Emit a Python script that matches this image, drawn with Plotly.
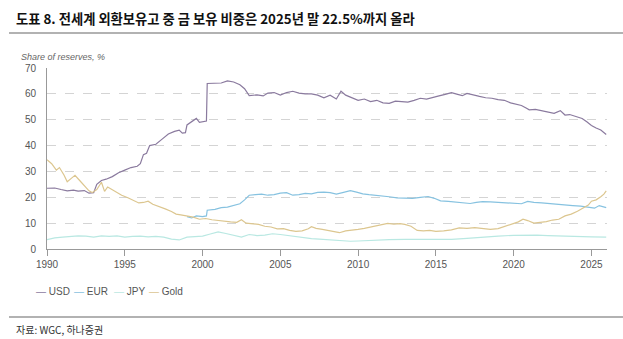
import plotly.graph_objects as go

usd_t = [1990.0,1990.5,1990.9,1991.3,1991.7,1992.0,1992.4,1992.7,1993.0,1993.2,1993.5,1993.8,1994.2,1994.6,1995.0,1995.4,1995.8,1996.0,1996.2,1996.4,1996.6,1997.0,1997.4,1997.8,1998.2,1998.5,1998.7,1998.9,1999.0,1999.4,1999.6,1999.8,2000.1,2000.25,2000.3,2000.8,2001.2,2001.6,2002.0,2002.4,2002.7,2003.0,2003.5,2003.9,2004.2,2004.6,2005.0,2005.4,2005.8,2006.2,2006.6,2007.0,2007.4,2007.8,2008.2,2008.6,2008.9,2009.2,2009.6,2010.0,2010.4,2010.8,2011.2,2011.6,2012.0,2012.4,2012.8,2013.2,2013.6,2014.0,2014.4,2014.8,2015.2,2015.6,2016.0,2016.4,2016.7,2017.0,2017.4,2017.8,2018.2,2018.6,2019.0,2019.4,2019.8,2020.2,2020.5,2020.8,2021.0,2021.4,2021.8,2022.2,2022.6,2023.0,2023.3,2023.6,2024.0,2024.4,2024.7,2025.0,2025.3,2025.6,2025.95]
usd_v = [23.5,23.6,23.0,22.5,22.8,22.4,22.6,21.6,21.8,25.0,26.5,27.0,28.0,29.5,30.5,31.5,32.0,33.0,36.5,37.0,40.0,40.5,42.5,44.5,45.5,46.0,44.8,45.0,48.0,49.5,50.5,49.0,49.5,49.5,64.0,64.0,64.2,65.0,64.6,63.5,62.0,59.3,59.6,59.2,60.3,60.5,59.5,60.5,61.0,60.3,60.0,60.0,59.5,58.5,59.5,58.0,61.0,59.5,58.5,57.5,58.0,57.0,57.5,56.5,56.3,57.2,57.0,56.8,57.5,58.3,58.0,58.5,59.2,59.8,60.5,59.8,59.3,60.2,59.5,59.0,58.5,58.3,57.8,57.5,56.5,56.0,55.5,54.5,53.8,54.0,53.5,53.0,52.5,53.5,51.8,52.0,51.2,50.5,49.2,47.8,46.8,46.0,44.3]

eur_t = [1999.0,1999.3,1999.6,2000.0,2000.25,2000.3,2000.8,2001.2,2001.6,2002.0,2002.4,2002.7,2003.0,2003.4,2003.8,2004.2,2004.6,2005.0,2005.4,2005.8,2006.2,2006.6,2007.0,2007.4,2007.8,2008.2,2008.6,2009.0,2009.5,2009.9,2010.3,2010.7,2011.1,2011.5,2012.0,2012.5,2013.0,2013.5,2014.0,2014.5,2014.9,2015.3,2015.8,2016.3,2016.8,2017.2,2017.6,2018.0,2018.5,2019.0,2019.5,2020.0,2020.5,2020.9,2021.3,2021.8,2022.3,2022.8,2023.3,2023.8,2024.3,2024.8,2025.2,2025.5,2025.95]
eur_v = [12.5,12.0,12.8,12.5,12.8,15.0,15.3,16.0,16.2,17.0,17.5,19.0,20.8,21.0,21.2,20.8,21.0,21.6,21.8,20.8,21.0,21.5,21.3,21.9,22.0,21.8,21.2,21.8,22.6,22.0,21.3,21.0,20.8,20.5,20.2,19.8,19.7,19.6,20.0,20.3,19.6,18.6,18.4,18.1,17.8,17.6,18.0,18.3,18.2,18.0,17.8,17.7,17.5,18.4,18.0,17.8,17.5,17.2,17.0,16.8,16.6,16.3,15.8,16.8,16.0]

jpy_t = [1990.0,1990.5,1991.0,1991.5,1992.0,1992.5,1993.0,1993.5,1994.0,1994.5,1995.0,1995.5,1996.0,1996.5,1997.0,1997.5,1998.0,1998.5,1999.0,1999.5,2000.0,2000.5,2001.0,2001.5,2002.0,2002.5,2003.0,2003.5,2004.0,2004.5,2005.0,2005.5,2006.0,2006.5,2007.0,2007.5,2008.0,2008.5,2009.0,2009.5,2010.0,2010.5,2011.0,2011.5,2012.0,2013.0,2014.0,2015.0,2016.0,2017.0,2018.0,2019.0,2020.0,2020.8,2021.5,2022.2,2023.0,2024.0,2025.0,2025.95]
jpy_v = [3.6,4.3,4.6,4.8,5.1,5.0,4.6,5.1,4.9,5.1,4.6,4.9,5.0,4.7,4.9,4.6,3.8,3.5,4.6,4.8,5.0,5.8,6.6,6.0,5.4,4.6,5.6,5.2,5.4,5.9,5.6,5.2,4.6,4.3,4.0,3.8,3.6,3.6,3.2,3.0,3.1,3.3,3.4,3.5,3.6,3.7,3.7,3.6,3.7,4.1,4.6,5.0,5.3,5.5,5.4,5.2,5.0,4.8,4.7,4.6]

gold_t = [1990.0,1990.3,1990.6,1990.8,1991.1,1991.3,1991.6,1991.8,1992.1,1992.4,1992.7,1992.9,1993.2,1993.5,1993.7,1993.9,1994.2,1994.5,1994.8,1995.2,1995.6,1995.9,1996.2,1996.5,1996.8,1997.2,1997.6,1998.0,1998.3,1998.6,1999.0,1999.4,1999.8,2000.2,2000.6,2001.0,2001.4,2001.8,2002.2,2002.5,2002.8,2003.2,2003.6,2004.0,2004.4,2004.8,2005.2,2005.6,2006.0,2006.4,2006.8,2007.0,2007.3,2007.7,2008.0,2008.4,2008.8,2009.2,2009.6,2010.0,2010.4,2010.8,2011.2,2011.6,2011.9,2012.3,2012.7,2013.0,2013.4,2013.8,2014.2,2014.6,2015.0,2015.5,2016.0,2016.5,2017.0,2017.5,2018.0,2018.5,2019.0,2019.5,2020.0,2020.3,2020.6,2020.9,2021.3,2021.7,2022.1,2022.5,2022.9,2023.3,2023.7,2024.1,2024.5,2024.8,2025.0,2025.3,2025.6,2025.8,2025.95]
gold_v = [34.5,33.0,30.5,31.5,28.5,26.0,27.5,28.5,26.5,24.5,22.5,21.8,23.0,25.8,22.3,24.0,23.0,22.0,20.8,19.8,18.5,17.8,18.0,18.5,17.3,16.5,15.5,14.5,13.5,13.2,12.8,12.3,11.5,11.8,11.3,11.0,10.6,10.5,10.3,11.3,10.0,9.8,9.5,8.8,8.5,7.8,7.9,7.2,6.8,7.0,7.8,8.6,8.0,7.6,7.2,6.8,6.3,7.0,7.2,7.6,8.0,8.5,8.8,9.5,9.9,9.6,9.8,9.5,8.8,7.2,7.0,7.2,6.8,7.0,7.4,8.2,8.0,8.3,8.0,7.6,7.9,8.8,9.9,10.5,11.5,11.0,10.0,10.3,10.6,11.2,11.5,12.8,13.5,14.6,15.8,17.0,18.5,19.0,20.2,21.2,22.5]

names = ["USD", "EUR", "JPY", "Gold"]
colors = ["#8a7a9e", "#86c2e0", "#b9e8e2", "#dcc68f"]
xtick_vals = [1990, 1995, 2000, 2005, 2010, 2015, 2020, 2025]
ytick_vals = [0, 10, 20, 30, 40, 50, 60, 70]

fig = go.Figure()
for t, v, n, c in zip([usd_t, eur_t, jpy_t, gold_t], [usd_v, eur_v, jpy_v, gold_v], names, colors):
    fig.add_trace(go.Scatter(x=t, y=v, mode="lines", name=n, line=dict(color=c, width=1.2)))

fig.update_layout(
    width=623, height=339,
    margin=dict(l=47, r=16, t=68, b=90),
    paper_bgcolor="white", plot_bgcolor="white",
    showlegend=False,
    font=dict(family="Liberation Sans, Arial, sans-serif", color="#555555", size=10),
)
fig.update_xaxes(
    range=[1990, 2026], tickvals=xtick_vals, ticktext=[str(v) for v in xtick_vals],
    showgrid=False, showline=True, linecolor="#999999", linewidth=1,
    ticks="outside", ticklen=6, tickcolor="#999999", zeroline=False,
    tickfont=dict(size=10, color="#555555"),
)
fig.update_yaxes(
    range=[0, 70], tickvals=ytick_vals, showgrid=True, gridcolor="#d4d4d4", griddash="dash",
    gridwidth=1, showline=True, linecolor="#999999", linewidth=1, zeroline=False,
    ticks="", ticklabelstandoff=8, tickfont=dict(size=10, color="#555555"),
)

# Title, separator lines, labels
fig.add_shape(type="line", xref="paper", yref="paper", x0=-38/560, x1=(623-47)/560,
              y0=(249-33)/181, y1=(249-33)/181, line=dict(color="#999999", width=1.5))
fig.add_shape(type="line", xref="paper", yref="paper", x0=-38/560, x1=(623-47)/560,
              y0=(249-317)/181, y1=(249-317)/181, line=dict(color="#999999", width=1.5))
fig.add_annotation(xref="paper", yref="paper", x=-33/560, y=(249-19)/181, xanchor="left", yanchor="middle",
                   text="<b>도표 8. 전세계 외환보유고 중 금 보유 비중은 2025년 말 22.5%까지 올라</b>",
                   showarrow=False, font=dict(family="Noto Sans CJK KR", size=13.3, color="#111111"))
fig.add_annotation(xref="paper", yref="paper", x=-28/560, y=(249-57)/181, xanchor="left", yanchor="middle",
                   text="<i>Share of reserves, %</i>", showarrow=False,
                   font=dict(family="Liberation Sans, Arial", size=9, color="#666666"))
fig.add_annotation(xref="paper", yref="paper", x=-33/560, y=(249-329)/181, xanchor="left", yanchor="middle",
                   text="자료: WGC, 하나증권", showarrow=False,
                   font=dict(family="Noto Sans CJK KR", size=10, color="#333333"))

# Legend as annotations
leg_x = [34, 72, 112, 147]
for lx, n, c in zip(leg_x, names, colors):
    fig.add_annotation(xref="paper", yref="paper", x=(lx-47)/560, y=(249-291)/181, xanchor="left", yanchor="middle",
                       text=f"<span style='color:{c}'>—</span> {n}", showarrow=False,
                       font=dict(family="Liberation Sans, Arial", size=10, color="#555555"))

fig.write_html("out.html")
